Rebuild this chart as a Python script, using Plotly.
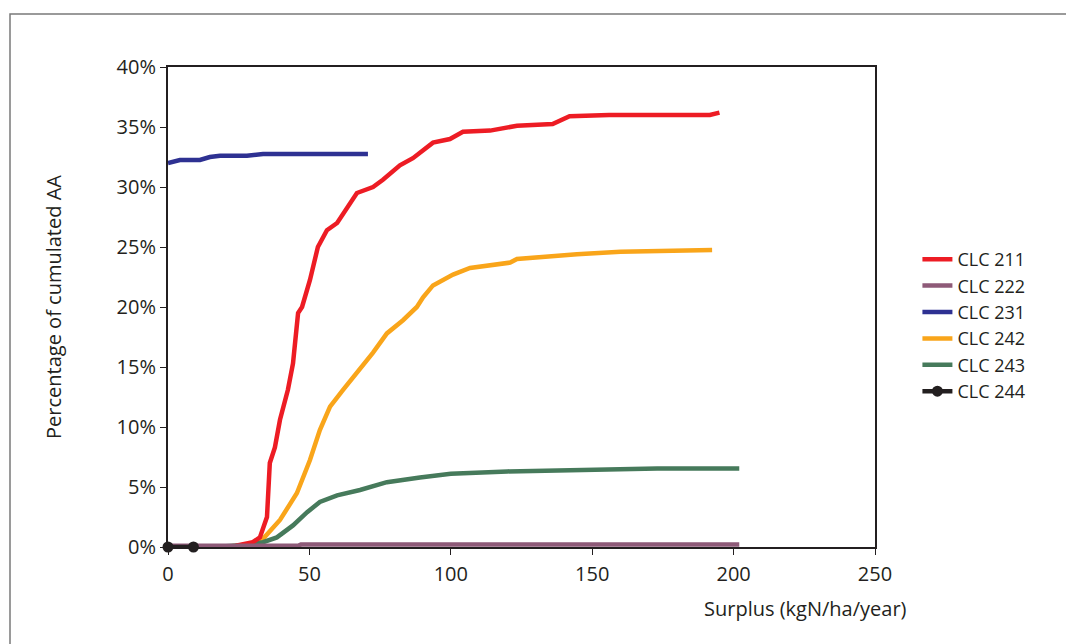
import plotly.graph_objects as go

# ---- data (x = surplus kgN/ha/year, y = % of cumulated AA) ----
names = ["CLC 211", "CLC 222", "CLC 231", "CLC 242", "CLC 243", "CLC 244"]
colors = ["#ED1C24", "#8E5A78", "#2E3192", "#F9A51A", "#467A5B", "#231F20"]

x211 = [24, 30, 32.5, 35, 36, 37.8, 39.6, 42.4, 44.2, 46, 47.4, 50.2, 53, 56.2, 59.8,
        64.4, 66.8, 72.5, 76, 82, 86.6, 93.7, 99.7, 104.3, 113.9, 123.4, 136, 142, 156,
        191.6, 195]
y211 = [0.1, 0.4, 0.8, 2.5, 7.0, 8.3, 10.6, 13.1, 15.3, 19.5, 20, 22.25, 25, 26.4, 27,
        28.7, 29.5, 30, 30.6, 31.8, 32.4, 33.7, 34, 34.6, 34.7, 35.1, 35.25, 35.9, 36,
        36, 36.2]

x222 = [0, 46, 47, 202]
y222 = [0.1, 0.1, 0.2, 0.2]

x231 = [0, 4.2, 11.3, 14.8, 18.4, 27.9, 33.6, 70.7]
y231 = [32, 32.25, 32.25, 32.5, 32.6, 32.6, 32.75, 32.75]

x242 = [20, 28, 33.7, 39.6, 45.6, 50.2, 53.7, 57.3, 61.9, 66.8, 72.5, 77.4, 83.1, 88,
        90.2, 93.7, 100.8, 106.8, 121, 123.4, 132.6, 144.6, 160, 180, 192.4]
y242 = [0, 0.2, 0.7, 2.25, 4.5, 7.25, 9.75, 11.7, 13.1, 14.5, 16.2, 17.8, 18.9, 20,
        20.8, 21.8, 22.7, 23.25, 23.7, 24, 24.2, 24.4, 24.6, 24.75, 24.75]

x243 = [16, 26.5, 33.6, 38.5, 44.2, 49.2, 53.7, 59.8, 67.9, 77.4, 89.1, 100, 120,
        138.6, 149, 173, 202]
y243 = [0, 0.15, 0.4, 0.8, 1.8, 2.9, 3.75, 4.3, 4.75, 5.4, 5.8, 6.1, 6.3, 6.4, 6.5,
        6.55, 6.55]

x244 = [0, 9]
y244 = [0, 0]

x_ticks = [0, 50, 100, 150, 200, 250]
y_ticks = [0, 5, 10, 15, 20, 25, 30, 35, 40]
y_ticktext = [f"{v}%" for v in y_ticks]

FONT = "Open Sans"
TXT = "#231F20"

series = [(x211, y211), (x222, y222), (x231, y231), (x242, y242), (x243, y243), (x244, y244)]

fig = go.Figure()
order = [3, 4, 0, 2, 1, 5]
for i in order:
    xs, ys = series[i]
    fig.add_trace(go.Scatter(
        x=xs, y=ys, name=names[i],
        mode="lines+markers" if i == 5 else "lines",
        line=dict(color=colors[i], width=4.5),
        marker=dict(size=11, color=colors[i]),
        legendrank=i + 1,
        cliponaxis=False if i == 5 else True,
        hoverinfo="skip",
    ))

# page body has an 8px margin: figure origin sits at (8, 8)
fig.update_layout(
    width=1066, height=636,
    margin=dict(l=160, r=199, t=59, b=97),
    paper_bgcolor="white", plot_bgcolor="white",
    font=dict(family=FONT, size=20, color=TXT),
    showlegend=True,
    legend=dict(x=1.06, y=(547 - 241) / 480, xanchor="left", yanchor="top",
                font=dict(family=FONT, size=18, color=TXT),
                tracegroupgap=0, itemwidth=30, bgcolor="rgba(0,0,0,0)"),
    xaxis=dict(range=[0, 250], tickvals=x_ticks, ticks="outside", ticklen=6,
               tickwidth=1, tickcolor="#231F20", showgrid=False, zeroline=False,
               showline=True, linecolor="#231F20", linewidth=2, mirror=True,
               ticklabelstandoff=2,
               tickfont=dict(family=FONT, size=20, color=TXT)),
    yaxis=dict(range=[0, 40], tickvals=y_ticks, ticktext=y_ticktext, ticks="outside",
               ticklen=6, tickwidth=1, tickcolor="#231F20", showgrid=False,
               zeroline=False, showline=True, linecolor="#231F20", linewidth=2,
               mirror=True, tickfont=dict(family=FONT, size=20, color=TXT),
               title=dict(text="Percentage of cumulated AA", standoff=50,
                          font=dict(family=FONT, size=20, color=TXT))),
    shapes=[dict(type="rect", xref="paper", yref="paper",
                 x0=(10 - 168) / 707, x1=1.5, y0=-0.5, y1=(547 - 14) / 480,
                 line=dict(color="#7A7A7A", width=1.5), fillcolor="rgba(0,0,0,0)",
                 layer="below")],
    annotations=[dict(text="Surplus (kgN/ha/year)", xref="paper", yref="paper",
                      x=(805 - 168) / 707, y=(547 - 608) / 480, xanchor="center",
                      yanchor="middle", showarrow=False,
                      font=dict(family=FONT, size=20, color=TXT))],
)

fig.write_html("out.html")
